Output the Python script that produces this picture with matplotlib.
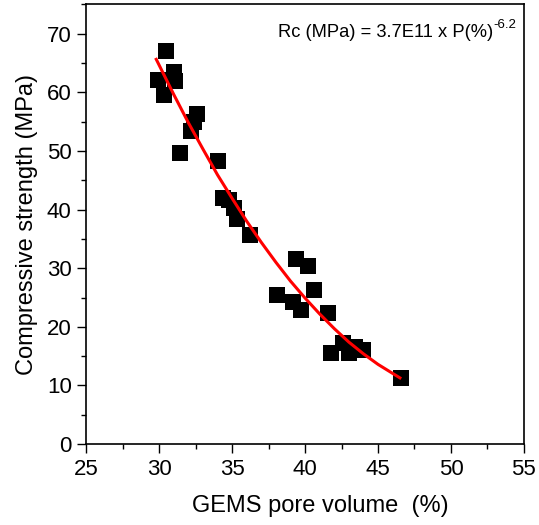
import numpy as np
import matplotlib.pyplot as plt
from matplotlib.ticker import MultipleLocator

plt.rcParams['font.family'] = ['Liberation Sans', 'DejaVu Sans']

# measured points: GEMS pore volume (%) vs compressive strength (MPa)
pore = [30.5, 29.9, 31.0, 31.1, 30.3, 32.6, 32.4, 32.2, 31.4, 34.0, 34.4, 34.8, 35.1, 35.3,
        36.2, 38.1, 39.2, 39.4, 39.7, 40.2, 40.6, 41.6, 41.8, 42.6, 43.0, 43.4, 44.0, 46.6]
strength = [67.0, 62.1, 63.4, 61.9, 59.6, 56.3, 55.0, 53.3, 49.6, 48.2, 42.0, 41.6, 40.2, 38.3,
            35.6, 25.5, 24.3, 31.6, 22.9, 30.3, 26.3, 22.3, 15.6, 17.3, 15.6, 16.6, 16.1, 11.2]

# fit curve
fit_x = [29.8, 31, 32, 33, 34, 35, 36, 37, 38, 39, 40, 41, 42, 43, 44, 45, 46.5]
fit_y = [65.6, 59.6, 54.8, 50.3, 45.9, 41.9, 38.0, 34.4, 31.0, 27.8, 24.9, 22.2, 19.7, 17.4,
         15.4, 13.6, 11.3]

fig = plt.figure(figsize=(5.39, 5.25), dpi=100)
ax = fig.add_axes([0.160, 0.154, 0.812, 0.838])

ax.scatter(pore, strength, marker='s', s=125, c='black', linewidths=0, zorder=2)
ax.plot(fit_x, fit_y, color='red', lw=2.2, zorder=3)

ax.set_xlim(25, 55)
ax.set_ylim(0, 75)
ax.xaxis.set_major_locator(MultipleLocator(5))
ax.xaxis.set_minor_locator(MultipleLocator(2.5))
ax.yaxis.set_major_locator(MultipleLocator(10))
ax.yaxis.set_minor_locator(MultipleLocator(5))
ax.tick_params(which='major', direction='out', length=6.5, width=1, labelsize=16, pad=4)
ax.tick_params(which='minor', direction='out', length=3.5, width=1)
for sp in ax.spines.values():
    sp.set_linewidth(1.2)

ax.set_xlabel('GEMS pore volume  (%)', fontsize=17, labelpad=11)
ax.xaxis.label.set_x(0.534)
ax.set_ylabel('Compressive strength (MPa)', fontsize=17, labelpad=6)

t1 = ax.text(0.438, 0.935, 'Rc (MPa) = 3.7E11 x P(%)', transform=ax.transAxes,
             ha='left', va='center', fontsize=13.2)
ax.annotate('-6.2', xy=(1.0, 0.62), xycoords=t1, ha='left', va='bottom', fontsize=9.5)

plt.savefig('out.png', dpi=100)
